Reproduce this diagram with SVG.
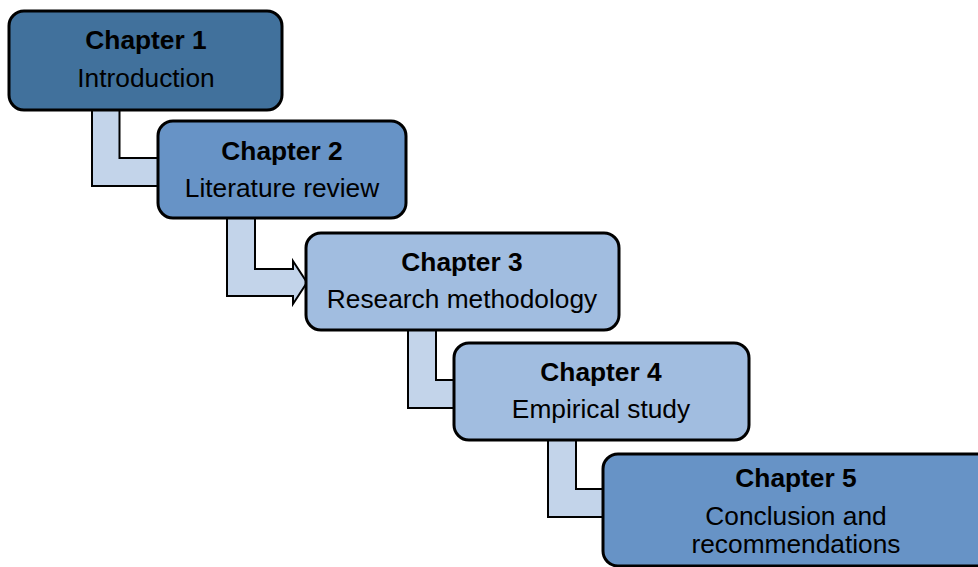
<svg xmlns="http://www.w3.org/2000/svg" width="978" height="567" viewBox="0 0 978 567">
  <style>
    .box { stroke: #000; stroke-width: 3; }
    .c1 { fill: #41719c; }
    .c2 { fill: #6793c6; }
    .c3 { fill: #a1bde0; }
    .link { fill: #c3d4ea; stroke: #000; stroke-width: 2; stroke-linejoin: miter; }
    text { font-family: "Liberation Sans", Arial, sans-serif; font-size: 26.3px; fill: #000; text-anchor: middle; }
    .title { font-weight: bold; }
  </style>
  <rect width="978" height="567" fill="#fff"/>

  <!-- bent arrows between successive chapters -->
  <g id="connectors">
    <path class="link" d="M92,110 H119.5 V158 H160 V186 H92 Z"/>
    <path class="link" d="M227,218 H255 V269 H293 V261 L307,282.5 L293,304 V296 H227 Z"/>
    <path class="link" d="M408,330 H436 V380 H456 V408 H408 Z"/>
    <path class="link" d="M548,440 H576 V489 H605 V517 H548 Z"/>
  </g>

  <g id="chapter1">
    <rect class="box c1" x="9" y="11" width="273" height="99" rx="15"/>
    <text class="title" x="146" y="49">Chapter 1</text>
    <text x="146" y="87">Introduction</text>
  </g>

  <g id="chapter2">
    <rect class="box c2" x="158" y="121" width="248" height="97" rx="15"/>
    <text class="title" x="282" y="160">Chapter 2</text>
    <text x="282" y="197">Literature review</text>
  </g>

  <g id="chapter3">
    <rect class="box c3" x="306" y="233" width="313" height="97" rx="15"/>
    <text class="title" x="462" y="271">Chapter 3</text>
    <text x="462" y="308">Research methodology</text>
  </g>

  <g id="chapter4">
    <rect class="box c3" x="454" y="343" width="295" height="97" rx="15"/>
    <text class="title" x="601" y="381">Chapter 4</text>
    <text x="601" y="418">Empirical study</text>
  </g>

  <g id="chapter5">
    <rect class="box c2" x="603" y="454" width="390" height="112" rx="15"/>
    <text class="title" x="796" y="487">Chapter 5</text>
    <text x="796" y="525">Conclusion and</text>
    <text x="796" y="553">recommendations</text>
  </g>
</svg>
